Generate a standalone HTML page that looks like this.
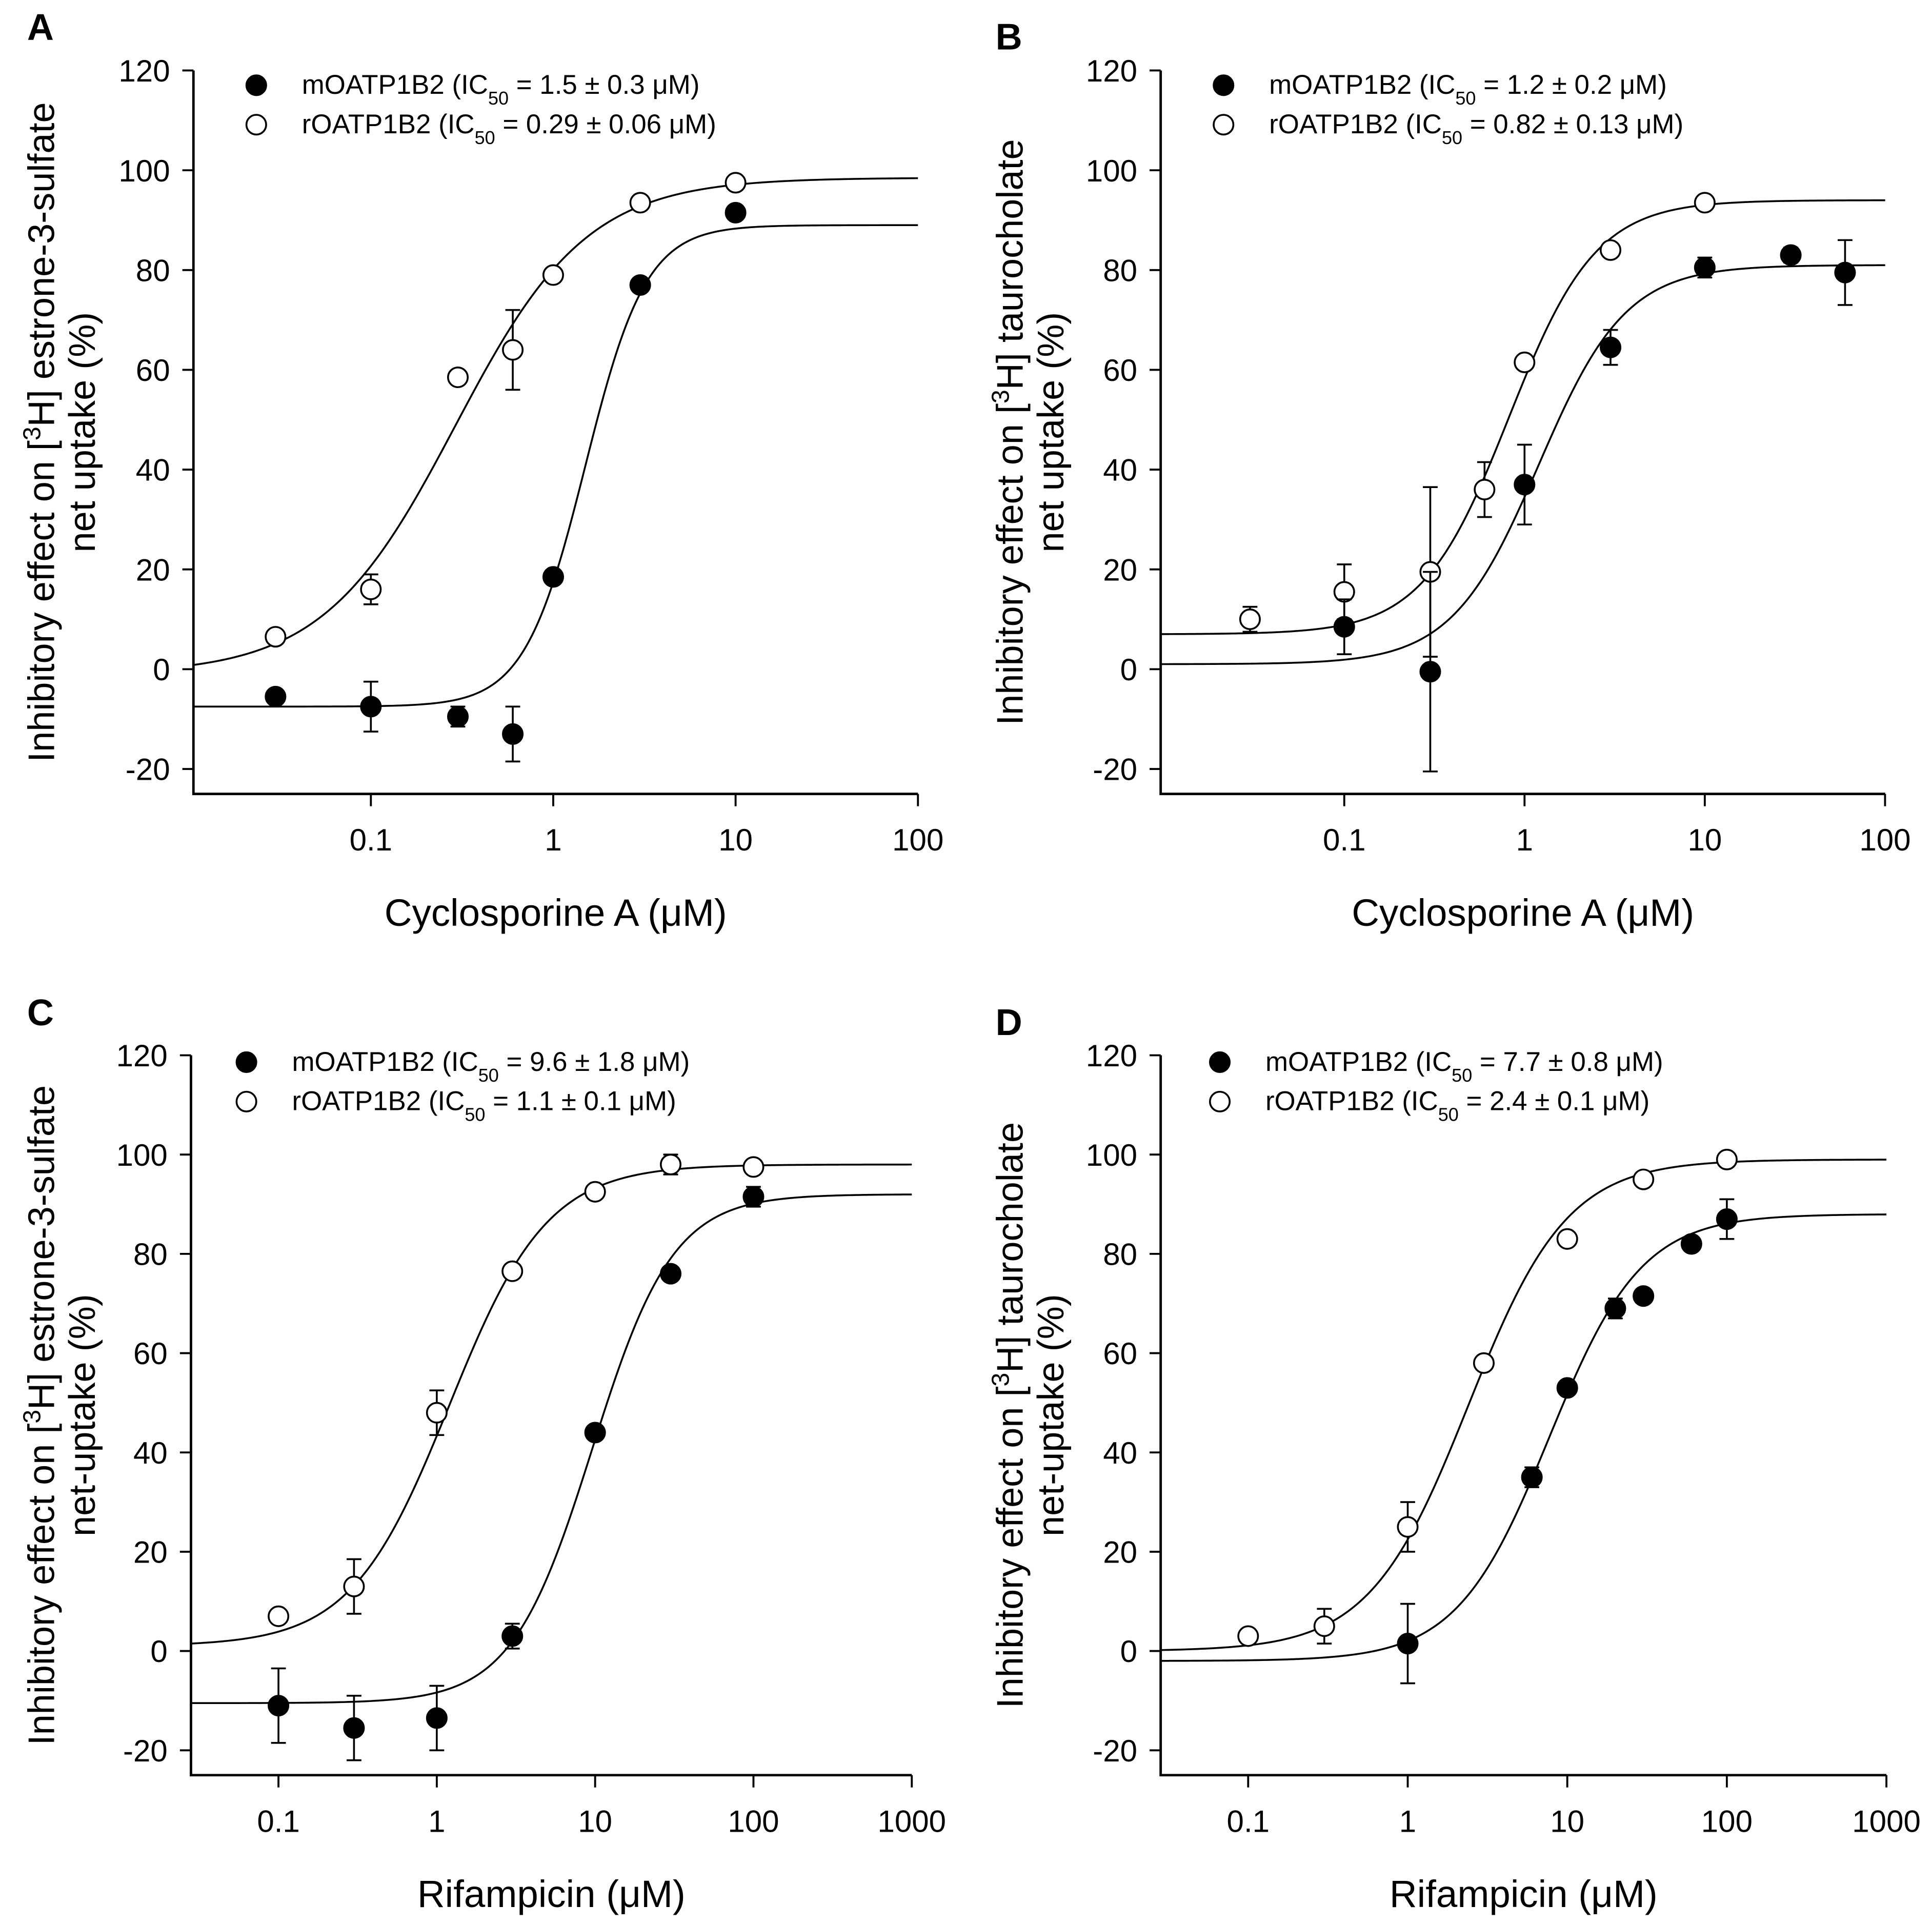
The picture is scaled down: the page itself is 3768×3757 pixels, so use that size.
<!DOCTYPE html>
<html><head><meta charset="utf-8">
<style>
html,body{margin:0;padding:0;background:#fff;}
svg{display:block;}
text{font-family:"Liberation Sans",Arial,sans-serif;fill:#000;}
</style></head>
<body>
<svg id="fig" width="3768" height="3757" viewBox="0 0 1568 1563" xmlns="http://www.w3.org/2000/svg"></svg>
<script>
// ---- Data (x in µM, y in %) ----
const aMx=[0.03,0.1,0.3,0.6,1,3,10];
const aMy=[-5.5,-7.5,-9.5,-13,18.5,77,91.5];
const aMe=[0,5,2,5.5,0,0,0];
const aRx=[0.03,0.1,0.3,0.6,1,3,10];
const aRy=[6.5,16,58.5,64,79,93.5,97.5];
const aRe=[0,3,0,8,0,0,0];
const aMfit=[-7.5,89,1.5,2.6];
const aRfit=[-1,98.5,0.29,1.2];

const bMx=[0.1,0.3,1,3,10,30,60];
const bMy=[8.5,-0.5,37,64.5,80.5,83,79.5];
const bMe=[5.5,20,8,3.5,2,1.5,6.5];
const bRx=[0.03,0.1,0.3,0.6,1,3,10];
const bRy=[10,15.5,19.5,36,61.5,84,93.5];
const bRe=[2.5,5.5,17,5.5,0,0,0];
const bMfit=[1,81,1.2,1.8];
const bRfit=[7,94,0.82,1.8];

const cMx=[0.1,0.3,1,3,10,30,100];
const cMy=[-11,-15.5,-13.5,3,44,76,91.5];
const cMe=[7.5,6.5,6.5,2.5,0,0,2];
const cRx=[0.1,0.3,1,3,10,30,100];
const cRy=[7,13,48,76.5,92.5,98,97.5];
const cRe=[0,5.5,4.5,0,0,2,0];
const cMfit=[-10.5,92,9.6,1.7];
const cRfit=[1,98,1.2,1.4];

const dMx=[1,6,10,20,30,60,100];
const dMy=[1.5,35,53,69,71.5,82,87];
const dMe=[8,2,0,2,0,0,4];
const dRx=[0.1,0.3,1,3,10,30,100];
const dRy=[3,5,25,58,83,95,99];
const dRe=[0,3.5,5,0,0,0,0];
const dMfit=[-2,88,7.7,1.5];
const dRfit=[0,99,2.4,1.4];

const yTicks=[-20,0,20,40,60,80,100,120];
const xTicksAB=[0.1,1,10,100];
const xTicksCD=[0.1,1,10,100,1000];
const xLabelsAB=["0.1","1","10","100"];
const xLabelsCD=["0.1","1","10","100","1000"];

const NS="http://www.w3.org/2000/svg";
const svg=document.getElementById('fig');
function mk(tag,attrs,parent){const e=document.createElementNS(NS,tag);for(const k in attrs)e.setAttribute(k,attrs[k]);(parent||svg).appendChild(e);return e;}

function panel(p){
  const g=mk('g',{});
  
  
  const X=v=>p.x1+(Math.log10(v)-Math.log10(p.v1))*p.dec;
  const Y=v=>p.y0+(0-v)*p.py;
  const xl=p.axX, xr=p.xEnd, yb=Y(-25), yt=Y(120);
  const ax=mk('path',{d:`M${xl},${yt}V${yb}H${xr}`,stroke:'#000','stroke-width':2,fill:'none'},g);
  
  
  yTicks.forEach(t=>{
    mk('line',{x1:xl-9,x2:xl,y1:Y(t),y2:Y(t),stroke:'#000','stroke-width':1.6},g);
    const tx=mk('text',{x:xl-19,y:Y(t)+9,'text-anchor':'end','font-size':25},g);
    tx.textContent=t;
    
    
  });
  p.xt.forEach((t,i)=>{
    mk('line',{x1:X(t),x2:X(t),y1:yb,y2:yb+10,stroke:'#000','stroke-width':1.6},g);
    const tx=mk('text',{x:X(t),y:yb+46,'text-anchor':'middle','font-size':25},g);
    tx.textContent=p.xlab[i];
    
    
  });
  const xt=mk('text',{x:(xl+xr)/2,y:yb+107,'text-anchor':'middle','font-size':31},g);
  xt.textContent=p.xTitle;
  
  
  const cy=(yt+yb)/2;
  const yt1=mk('text',{x:p.yTx,y:cy,'text-anchor':'middle','font-size':30,transform:`rotate(-90 ${p.yTx} ${cy})`},g);
  yt1.innerHTML='Inhibitory effect on [<tspan baseline-shift="super" font-size="20">3</tspan>H] '+p.sub;
  
  
  const yt2=mk('text',{x:p.yTx+33,y:cy,'text-anchor':'middle','font-size':30,transform:`rotate(-90 ${p.yTx+33} ${cy})`},g);
  yt2.textContent=p.sub2;
  
  
  const lt=mk('text',{x:p.letX,y:p.letY,'font-size':30,'font-weight':'bold'},g);
  lt.textContent=p.id;
  
  
  [p.mf,p.rf].forEach((f,k)=>{
    let d='';const N=300;
    for(let i=0;i<=N;i++){const xx=xl+(xr-xl)*i/N;const v=Math.pow(10,Math.log10(p.v1)+(xx-p.x1)/p.dec);
      const y=f[0]+(f[1]-f[0])/(1+Math.pow(f[2]/v,f[3]));d+=(i?'L':'M')+xx.toFixed(2)+','+Y(y).toFixed(2);}
    const c=mk('path',{d,fill:'none',stroke:'#000','stroke-width':1.5},g);
    
    
  });
  const series=[[p.rx,p.ry,p.re,'#fff','roatp1b2'],[p.mx,p.my,p.me,'#000','moatp1b2']];
  series.forEach(s=>{
    s[0].forEach((xv,i)=>{
      const cx=X(xv),cyy=Y(s[1][i]),e=s[2][i];
      if(e>0){const y1=Y(s[1][i]+e),y2=Y(s[1][i]-e);
        mk('path',{d:`M${cx},${y1}V${y2}M${cx-6},${y1}H${cx+6}M${cx-6},${y2}H${cx+6}`,stroke:'#000','stroke-width':1.5,fill:'none'},g);}
      const pt=mk('circle',{cx,cy:cyy,r:8,fill:s[3],stroke:'#000','stroke-width':1.5},g);
      
      
    });
  });
  [[p.legM,'#000','m'],[p.legR,'#fff','r']].forEach((l,k)=>{
    const ly=p.legY+k*32;
    const c=mk('circle',{cx:p.legX,cy:ly,r:8,fill:l[1],stroke:'#000','stroke-width':1.5},g);
    
    
    const t=mk('text',{x:p.legX+37,y:ly+7,'font-size':22},g);
    t.innerHTML=l[2]+'OATP1B2 (IC<tspan baseline-shift="sub" font-size="15">50</tspan> = '+l[0]+')';
    
    
  });
}

panel({id:'A',axX:157,xEnd:745,x1:301,v1:0.1,dec:148,y0:543,py:4.05,xt:xTicksAB,xlab:xLabelsAB,
  xTitle:'Cyclosporine A (μM)',sub:'estrone-3-sulfate',sub2:'net uptake (%)',yTx:44,letX:22,letY:32,
  mx:aMx,my:aMy,me:aMe,rx:aRx,ry:aRy,re:aRe,mf:aMfit,rf:aRfit,legX:208,legY:69,
  legM:'1.5 ± 0.3 μM',legR:'0.29 ± 0.06 μM'});
panel({id:'B',axX:942,xEnd:1530,x1:1091,v1:0.1,dec:146.3,y0:543,py:4.05,xt:xTicksAB,xlab:xLabelsAB,
  xTitle:'Cyclosporine A (μM)',sub:'taurocholate',sub2:'net uptake (%)',yTx:830,letX:808,letY:40,
  mx:bMx,my:bMy,me:bMe,rx:bRx,ry:bRy,re:bRe,mf:bMfit,rf:bRfit,legX:993,legY:69,
  legM:'1.2 ± 0.2 μM',legR:'0.82 ± 0.13 μM'});
panel({id:'C',axX:155,xEnd:740,x1:226,v1:0.1,dec:128.5,y0:1340,py:4.03,xt:xTicksCD,xlab:xLabelsCD,
  xTitle:'Rifampicin (μM)',sub:'estrone-3-sulfate',sub2:'net-uptake (%)',yTx:44,letX:22,letY:832,
  mx:cMx,my:cMy,me:cMe,rx:cRx,ry:cRy,re:cRe,mf:cMfit,rf:cRfit,legX:200,legY:862,
  legM:'9.6 ± 1.8 μM',legR:'1.1 ± 0.1 μM'});
panel({id:'D',axX:942,xEnd:1531,x1:1013,v1:0.1,dec:129.5,y0:1340,py:4.03,xt:xTicksCD,xlab:xLabelsCD,
  xTitle:'Rifampicin (μM)',sub:'taurocholate',sub2:'net-uptake (%)',yTx:830,letX:808,letY:840,
  mx:dMx,my:dMy,me:dMe,rx:dRx,ry:dRy,re:dRe,mf:dMfit,rf:dRfit,legX:990,legY:862,
  legM:'7.7 ± 0.8 μM',legR:'2.4 ± 0.1 μM'});
</script>
</body></html>
